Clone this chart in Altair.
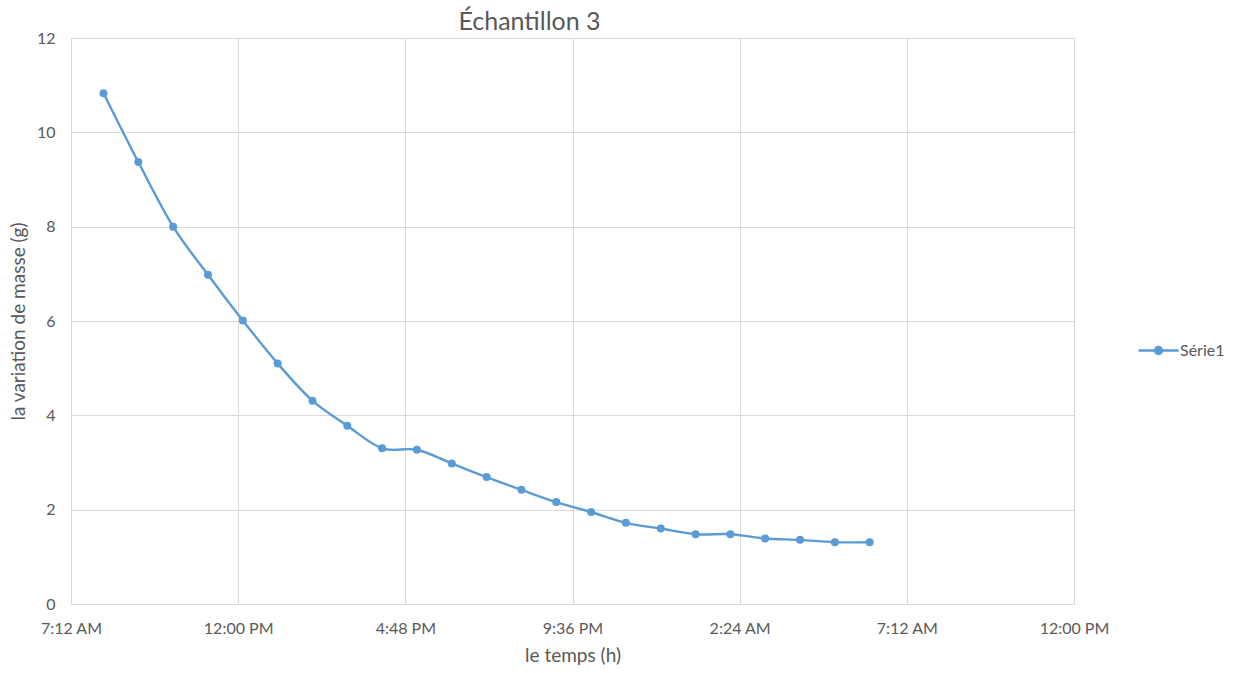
import altair as alt
import pandas as pd

# time in minutes since midnight of the first day
time_min = [488, 548, 608, 668, 728, 788, 848, 908, 968, 1028, 1088, 1148,
            1208, 1268, 1328, 1388, 1448, 1508, 1568, 1628, 1688, 1748, 1808]
mass = [10.83, 9.37, 8.00, 6.98, 6.01, 5.10, 4.31, 3.78, 3.30, 3.27, 2.98, 2.69,
        2.42, 2.16, 1.95, 1.72, 1.60, 1.48, 1.48, 1.39, 1.36, 1.31, 1.31]
series = ["Série1"] * len(mass)

tick_values = [432, 720, 1008, 1296, 1584, 1872, 2160]
tick_labels = ["7:12 AM", "12:00 PM", "4:48 PM", "9:36 PM", "2:24 AM", "7:12 AM", "12:00 PM"]

df = pd.DataFrame({"t": time_min, "m": mass, "s": series})

FONT = "Lato"
TXT = "#595959"
GRID = "#D9D9D9"
BLUE = "#5B9BD5"

label_expr = "[" + ",".join("'%s'" % l for l in tick_labels) + "][indexof([" + \
    ",".join(str(v) for v in tick_values) + "], datum.value)]"

x = alt.X("t:Q", scale=alt.Scale(domain=[432, 2160], nice=False, zero=False),
          axis=alt.Axis(values=tick_values, labelExpr=label_expr, title="le temps (h)",
                        grid=True, gridColor=GRID, domainColor=GRID, ticks=False,
                        labelColor=TXT, labelFontSize=16, labelFont=FONT, labelPadding=16,
                        titleColor=TXT, titleFontSize=19, titleFont=FONT, titleFontWeight="normal",
                        titlePadding=10, labelFlush=False))
y = alt.Y("m:Q", scale=alt.Scale(domain=[0, 12], nice=False),
          axis=alt.Axis(values=[0, 2, 4, 6, 8, 10, 12], grid=True, gridColor=GRID, domain=False,
                        ticks=False, labelColor=TXT, labelFontSize=16, labelFont=FONT,
                        labelPadding=16, title="la variation de masse (g)", titleColor=TXT,
                        titleFontSize=19, titleFont=FONT, titleFontWeight="normal",
                        titlePadding=8))

color = alt.Color("s:N", scale=alt.Scale(domain=["Série1"], range=[BLUE]),
                  legend=alt.Legend(title=None, orient="none", legendX=1066, legendY=291,
                                    symbolType="M-1,0H1M-0.175,0A0.175,0.175,0,1,1,0.175,0A0.175,0.175,0,1,1,-0.175,0Z",
                                    symbolSize=1600, symbolStrokeWidth=2.4,
                                    symbolFillColor=BLUE, symbolStrokeColor=BLUE,
                                    labelFont=FONT, labelFontSize=16, labelColor=TXT,
                                    labelOffset=0))

line = alt.Chart(df).mark_line(interpolate="cardinal", strokeWidth=2.4).encode(x=x, y=y, color=color)
pts = alt.Chart(df).mark_circle(size=64, opacity=1).encode(
    x=x, y=y, color=alt.Color("s:N", scale=alt.Scale(domain=["Série1"], range=[BLUE]), legend=None))

chart = alt.layer(line, pts).properties(
    width=1003, height=566,
    autosize=alt.AutoSizeParams(type="none"),
    padding={"left": 71, "top": 38, "right": 165, "bottom": 69},
    title=alt.TitleParams("Échantillon 3", font=FONT, fontSize=25, color=TXT,
                          fontWeight="normal", anchor="middle", dx=-43, offset=1, dy=26,
                          baseline="alphabetic"),
).configure_view(stroke=None).configure(background="white")

chart.save("out.html", embed_options={"renderer": "svg", "actions": False})
